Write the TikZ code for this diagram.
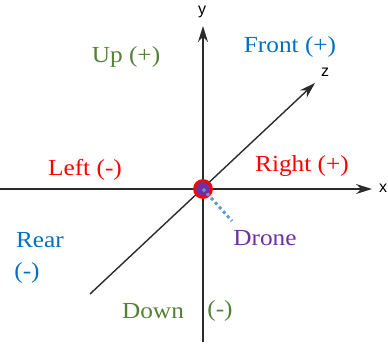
\documentclass[tikz,border=0pt]{standalone}
\usepackage{fontspec}
\setmainfont{Liberation Serif}
\newfontfamily\axisfont{Liberation Sans}
\usetikzlibrary{arrows.meta}
\definecolor{upgreen}{HTML}{538135}
\definecolor{frontblue}{HTML}{0070C0}
\definecolor{dronepurple}{HTML}{7030A0}
\definecolor{dotblue}{HTML}{5B9BD5}
\definecolor{axisgray}{HTML}{2B2B2B}
\tikzset{
  lbl/.style={font=\fontsize{23}{26}\selectfont, inner sep=0pt, xscale=1.1},
  axislbl/.style={font=\axisfont\fontsize{16}{18}\selectfont, inner sep=0pt},
  axisline/.style={line width=1.4pt, draw=axisgray, -{Stealth[length=16pt,width=10pt]}},
}
\begin{document}
\begin{tikzpicture}[x=1pt,y=-1pt]
  \useasboundingbox (0,0) rectangle (388,343);
  \coordinate (ybot) at (203,342);
  \coordinate (ytip) at (203,26);
  \coordinate (xleft) at (0,189);
  \coordinate (xtip) at (372,189);
  \coordinate (zback) at (90,294);
  \coordinate (ztip) at (315,83);
  \draw[axisline] (ybot) -- (ytip);
  \draw[axisline] (xleft) -- (xtip);
  \draw[axisline] (zback) -- (ztip);
  \node[axislbl] (ylab) at (202,12) {y};
  \node[axislbl] (xlab) at (383,188) {x};
  \node[axislbl] (zlab) at (325,72) {z};
  \node[circle, minimum size=17pt, inner sep=0pt, draw=red, line width=2.8pt, fill=dronepurple] (drone) at (203,189) {};
  \node[lbl, text=dronepurple] (dronelab) at (265,238) {Drone};
  \coordinate (dotend) at (232,221);
  \draw[dotblue, line width=3pt, dash pattern=on 3pt off 3pt] (drone.center) -- (dotend);
  \node[lbl, text=upgreen] (up) at (126,57) {Up (+)};
  \node[lbl, text=frontblue] (front) at (290,47) {Front (+)};
  \node[lbl, text=red] (left) at (85,170) {Left (-)};
  \node[lbl, text=red] (right) at (302,166) {Right (+)};
  \node[lbl, text=frontblue] (rear) at (40,240) {Rear};
  \node[lbl, text=frontblue] (rearsign) at (27,273) {(-)};
  \node[lbl, text=upgreen] (down) at (153,311) {Down};
  \node[lbl, text=upgreen] (downsign) at (220,311) {(-)};
\end{tikzpicture}
\end{document}
